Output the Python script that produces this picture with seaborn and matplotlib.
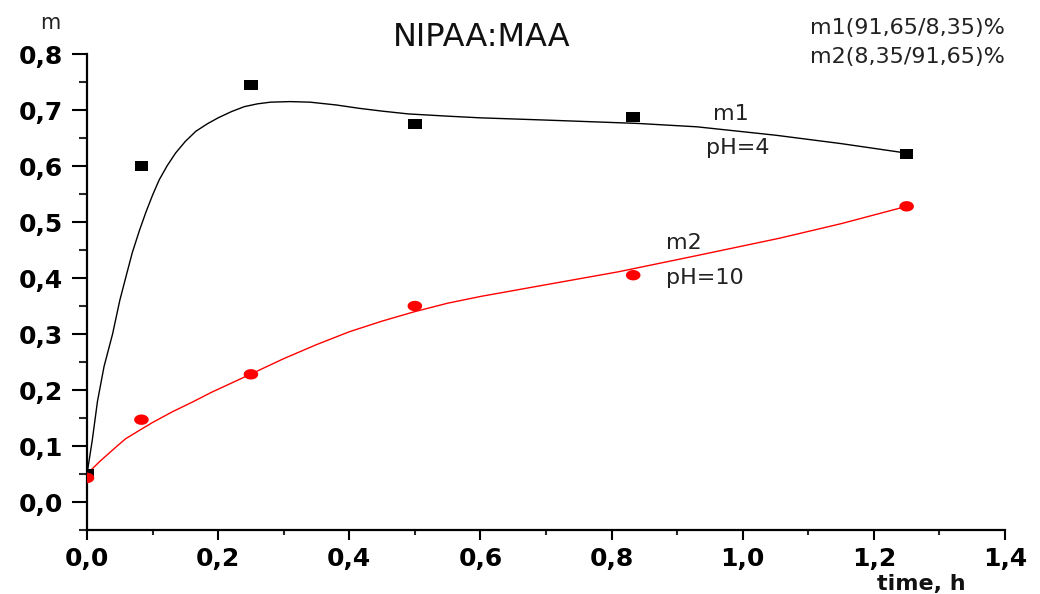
import numpy as np
import pandas as pd
import matplotlib
matplotlib.use("Agg")
import matplotlib.pyplot as plt
from matplotlib.path import Path
import seaborn as sns

# ---- data ----
time_h = [0.0, 0.083, 0.25, 0.5, 0.833, 1.25]
m1_pts = [0.050, 0.600, 0.745, 0.675, 0.688, 0.622]
m2_pts = [0.043, 0.147, 0.228, 0.350, 0.405, 0.528]

# fitted curves
m1_fit_x = [0.0, 0.004, 0.008, 0.016, 0.026, 0.039, 0.05, 0.06, 0.069, 0.08, 0.09, 0.10,
            0.11, 0.122, 0.135, 0.15, 0.166, 0.183, 0.20, 0.22, 0.24, 0.26, 0.28, 0.31,
            0.34, 0.38, 0.415, 0.45, 0.49, 0.55, 0.60, 0.70, 0.84, 0.93, 1.05, 1.15, 1.25]
m1_fit_y = [0.05, 0.08, 0.11, 0.18, 0.242, 0.30, 0.36, 0.405, 0.445, 0.485, 0.518, 0.548,
            0.575, 0.600, 0.623, 0.644, 0.662, 0.675, 0.686, 0.697, 0.706, 0.711, 0.714, 0.715,
            0.714, 0.709, 0.703, 0.698, 0.693, 0.689, 0.686, 0.682, 0.676, 0.670, 0.655, 0.640, 0.623]
m2_fit_x = [0.0, 0.006, 0.02, 0.034, 0.047, 0.059, 0.08, 0.10, 0.13, 0.16, 0.19, 0.227, 0.26,
            0.30, 0.35, 0.40, 0.45, 0.50, 0.55, 0.60, 0.70, 0.81, 0.93, 1.056, 1.15, 1.25]
m2_fit_y = [0.045, 0.057, 0.073, 0.0875, 0.101, 0.113, 0.128, 0.142, 0.161, 0.178, 0.196, 0.216,
            0.234, 0.256, 0.281, 0.304, 0.323, 0.340, 0.355, 0.367, 0.388, 0.411, 0.440, 0.471,
            0.497, 0.528]

x_ticks = [0.0, 0.2, 0.4, 0.6, 0.8, 1.0, 1.2, 1.4]
x_labels = ["0,0", "0,2", "0,4", "0,6", "0,8", "1,0", "1,2", "1,4"]
y_ticks = [0.0, 0.1, 0.2, 0.3, 0.4, 0.5, 0.6, 0.7, 0.8]
y_labels = ["0,0", "0,1", "0,2", "0,3", "0,4", "0,5", "0,6", "0,7", "0,8"]

title = "NIPAA:MAA"
note1 = "m1(91,65/8,35)%"
note2 = "m2(8,35/91,65)%"

sns.set_theme(style="ticks")
plt.rcParams["font.family"] = ["DejaVu Sans"]

fig = plt.figure(figsize=(10.4, 5.94), dpi=100)
ax = fig.add_axes([87 / 1040, 1 - 530 / 594, (1005 - 87) / 1040, (530 - 54) / 594])

df1 = pd.DataFrame({"x": m1_fit_x, "y": m1_fit_y})
df2 = pd.DataFrame({"x": m2_fit_x, "y": m2_fit_y})
sns.lineplot(data=df1, x="x", y="y", ax=ax, color="black", lw=1.0, sort=False, estimator=None)
sns.lineplot(data=df2, x="x", y="y", ax=ax, color="#ff0000", lw=1.0, sort=False, estimator=None)

# slightly wide markers (as in the reference)
sq = Path([(-0.7, -0.5), (0.7, -0.5), (0.7, 0.5), (-0.7, 0.5), (-0.7, -0.5)],
          [Path.MOVETO, Path.LINETO, Path.LINETO, Path.LINETO, Path.CLOSEPOLY])
t = np.linspace(0, 2 * np.pi, 40)
ell = Path(np.column_stack([0.7 * np.cos(t), 0.5 * np.sin(t)]), closed=True)

pts = pd.DataFrame({"t": time_h, "m1": m1_pts, "m2": m2_pts})
sns.scatterplot(data=pts, x="t", y="m1", ax=ax, marker=sq, s=95, color="black",
                edgecolor="none", zorder=5)
sns.scatterplot(data=pts, x="t", y="m2", ax=ax, marker=ell, s=110, color="#ff0000",
                edgecolor="none", zorder=5)

ax.set_xlim(0, 1.4)
ax.set_ylim(-0.05, 0.8)
ax.set_xticks(x_ticks)
ax.set_xticklabels(x_labels)
ax.set_yticks(y_ticks)
ax.set_yticklabels(y_labels)
ax.set_xticks(np.arange(0.1, 1.4, 0.2), minor=True)
ax.set_yticks(np.arange(-0.05, 0.8, 0.1), minor=True)
ax.set_xlabel("")
ax.set_ylabel("")

for s in ["top", "right"]:
    ax.spines[s].set_visible(False)
for s in ["left", "bottom"]:
    ax.spines[s].set_linewidth(1.6)
    ax.spines[s].set_color("black")

ax.tick_params(axis="y", which="major", length=11, width=1.5, pad=6, labelsize=18, colors="black")
ax.tick_params(axis="y", which="minor", length=5.5, width=1.5)
ax.tick_params(axis="x", which="major", length=7.5, width=1.5, pad=5, labelsize=18, colors="black")
ax.tick_params(axis="x", which="minor", length=3.5, width=1.5)
for lab in ax.get_xticklabels() + ax.get_yticklabels():
    lab.set_fontweight("bold")

ax.text(0.982, 0.693, "m1", fontsize=16, ha="center", va="center", color="#222222")
ax.text(0.992, 0.632, "pH=4", fontsize=16, ha="center", va="center", color="#222222")
ax.text(0.910, 0.4625, "m2", fontsize=16, ha="center", va="center", color="#222222")
ax.text(0.942, 0.400, "pH=10", fontsize=16, ha="center", va="center", color="#222222")

fig.text(482 / 1040, 1 - 37 / 594, title, fontsize=23, ha="center", va="center", color="#111111")
fig.text(0.9663, 1 - 28 / 594, note1, fontsize=16, ha="right", va="center", color="#222222")
fig.text(0.9663, 1 - 57 / 594, note2, fontsize=16, ha="right", va="center", color="#222222")
fig.text(50 / 1040, 1 - 23 / 594, "m", fontsize=15, ha="center", va="center", color="#222222")
fig.text(921 / 1040, 1 - 584 / 594, "time, h", fontsize=16, fontweight="bold",
         ha="center", va="center", color="#111111")

fig.savefig("out.png", dpi=100, facecolor="white")
